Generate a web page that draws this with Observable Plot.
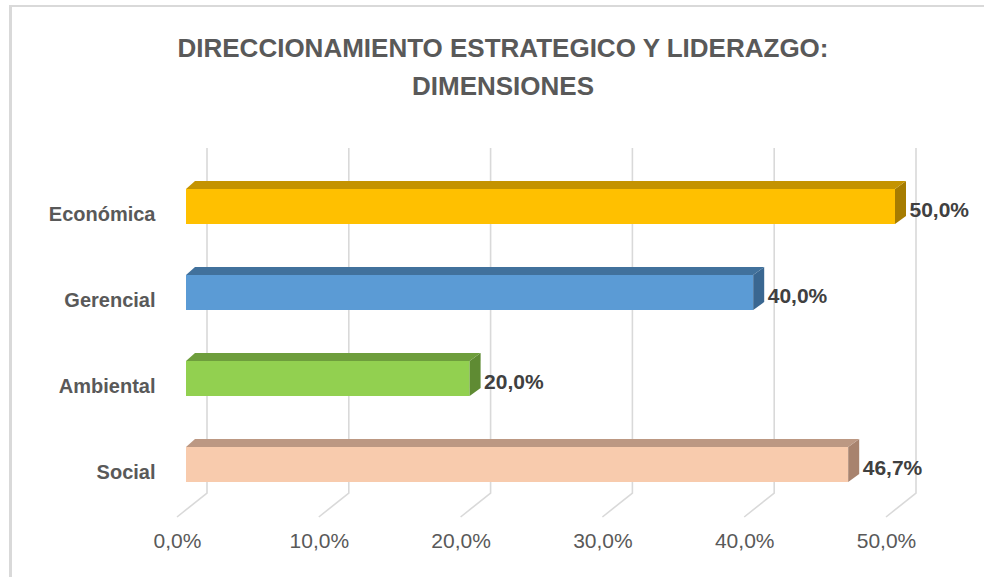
<!DOCTYPE html>
<html>
<head>
<meta charset="utf-8">
<script src="https://cdn.jsdelivr.net/npm/d3@7"></script>
<script src="https://cdn.jsdelivr.net/npm/@observablehq/plot@0.6"></script>
<style>
  html, body { margin: 0; padding: 0; background: #ffffff; }
  #wrap { position: relative; width: 984px; height: 577px; overflow: hidden; background: #fff; }
  #frame { position: absolute; left: 9px; top: 5px; width: 1200px; height: 800px;
           border-left: 3px solid #d9d9d9; border-top: 2px solid #d9d9d9; box-sizing: border-box; }
  #title { position: relative; height: 120px; }
  #title div { position: absolute; left: 0; width: 1006px; text-align: center;
               font-family: "Liberation Sans", Arial, sans-serif; font-size: 26px; font-weight: bold;
               color: #595959; line-height: 38px; white-space: nowrap; }
  #chart { position: relative; }
  #chart svg { display: block; }
</style>
</head>
<body>
<div id="wrap">
  <div id="frame"></div>
  <div id="title"></div>
  <div id="chart"></div>
</div>
<script>
// ---- data ----
const categories = ["Económica", "Gerencial", "Ambiental", "Social"];
const values = [0.5, 0.4, 0.2, 0.467];
const valueLabels = ["50,0%", "40,0%", "20,0%", "46,7%"];
const ticks = [0, 0.1, 0.2, 0.3, 0.4, 0.5];
const tickLabels = ["0,0%", "10,0%", "20,0%", "30,0%", "40,0%", "50,0%"];
const titleLines = ["DIRECCIONAMIENTO ESTRATEGICO Y LIDERAZGO:", "DIMENSIONES"];

// ---- styles ----
const frontColors = ["#FFC000", "#5B9BD5", "#92D050", "#F8CBAD"];
const topColors   = ["#C49300", "#41719C", "#6E9E3C", "#BC9883"];
const sideColors  = ["#A67C00", "#3A6791", "#5F8B33", "#A8836E"];
const depth = {dxL: 9, dxR: 11, dy: -8};

const data = categories.map((c, i) => ({cat: c, value: values[i], label: valueLabels[i], idx: i}));

// title
const t = document.getElementById("title");
titleLines.forEach((line, i) => {
  const d = document.createElement("div");
  d.textContent = line;
  d.style.top = (28.5 + i * 38) + "px";
  t.appendChild(d);
});

// 3D faces drawn on top of the front bars, using the scaled pixel values
function faces(index, scales, vals, dims, ctx, next) {
  const g = next(index, scales, vals, dims, ctx);
  const bw = scales.y && scales.y.bandwidth ? scales.y.bandwidth() : 35;
  const X1 = vals.x1, X2 = vals.x2, Y = vals.y;
  const sel = d3.select(g);
  for (const i of index) {
    const x1 = X1[i], x2 = X2[i], y0 = Y[i], y1 = y0 + bw;
    const k = data[i].idx;
    sel.append("path")
      .attr("d", `M${x2},${y0}L${x2 + depth.dxR},${y0 + depth.dy}L${x2 + depth.dxR},${y1 + depth.dy}L${x2},${y1}Z`)
      .attr("fill", sideColors[k]);
    sel.append("path")
      .attr("d", `M${x1},${y0}L${x1 + depth.dxL},${y0 + depth.dy}L${x2 + depth.dxR},${y0 + depth.dy}L${x2},${y0}Z`)
      .attr("fill", topColors[k]);
  }
  return g;
}

// back-wall gridlines + floor lines
function walls(index, scales, vals, dims) {
  const g = d3.create("svg:g");
  const top = dims.marginTop + 13;
  const yb = dims.height - dims.marginBottom - 42;
  for (const i of index) {
    const x = vals.x[i];
    g.append("path")
      .attr("d", `M${x + 21},${top}V${yb}L${x - 9},${yb + 24}`)
      .attr("fill", "none")
      .attr("stroke", "#d9d9d9")
      .attr("stroke-width", 1.6);
  }
  return g.node();
}

const plot = Plot.plot({
  width: 984,
  height: 457,
  marginLeft: 186,
  marginRight: 89,
  marginTop: 15,
  marginBottom: 42,
  style: {fontFamily: "'Liberation Sans', Arial, sans-serif", background: "transparent"},
  x: {domain: [0, 0.5], axis: null},
  y: {domain: categories, padding: 0.598, axis: null},
  color: {domain: categories, range: frontColors},
  marks: [
    Plot.ruleX(ticks, {x: d => d, render: walls}),
    Plot.barX(data, {x: "value", y: "cat", fill: "cat", render: faces}),
    Plot.text(data, {x: "value", y: "cat", text: "label", dx: 14, dy: 3, textAnchor: "start",
                     fontWeight: "bold", fontSize: 21, fill: "#404040"}),
    Plot.text(categories, {y: d => d, frameAnchor: "left", textAnchor: "end", dx: -31, dy: 8,
                           fontWeight: "bold", fontSize: 20, fill: "#595959"}),
    Plot.text(ticks, {x: d => d, text: (d, i) => tickLabels[i], frameAnchor: "bottom",
                      dx: -9, dy: 12, fontSize: 21, fill: "#595959"})
  ]
});
document.getElementById("chart").appendChild(plot);
</script>
</body>
</html>
